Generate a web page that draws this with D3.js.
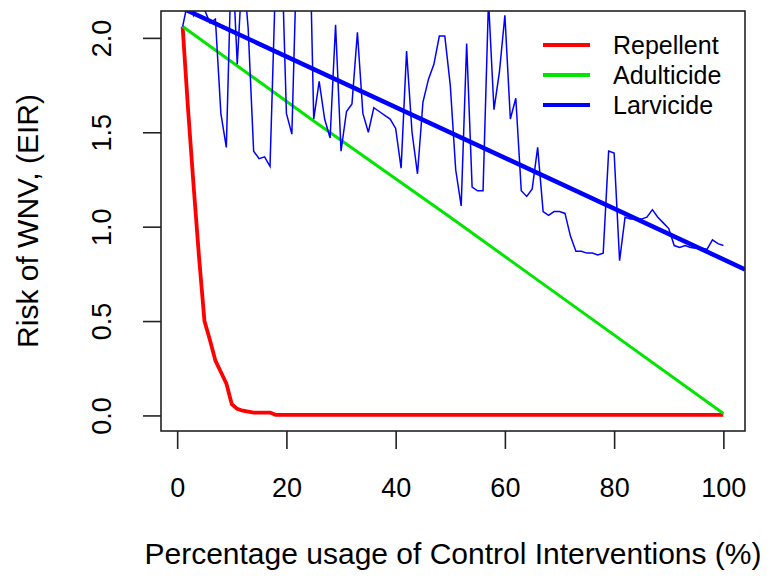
<!DOCTYPE html>
<meta charset="utf-8">

<!-- Load d3.js -->
<script src="https://d3js.org/d3.v7.min.js"></script>

<style>
  body { margin: 0; background: #fff; }
  text { font-family: "Liberation Sans", Arial, sans-serif; fill: #000; }
  .tick-label { font-size: 27px; }
  .axis-title { font-size: 30px; }
  .legend-label { font-size: 25px; }
</style>

<!-- Create a div where the graph will take place -->
<div id="my_dataviz"></div>

<script>

// Percentage usage, one point per percent (1..100)
var usage = d3.range(1, 101);

// Repellent: steep drop then flat at zero
var repellentX = [1, 2, 3, 4, 5, 6, 7, 8, 9, 10, 11, 12, 13, 14, 15, 16, 17, 18, 100];
var repellent = [2.06, 1.62, 1.22, 0.84, 0.50, 0.40, 0.29, 0.23, 0.17, 0.06,
                 0.035, 0.025, 0.02, 0.015, 0.015, 0.015, 0.015, 0.003, 0.003];

// Adulticide: straight decline
var adulticideX = [1, 25, 50, 75, 100];
var adulticide = [2.06, 1.56, 1.05, 0.53, 0.01];

// Larvicide: noisy series (values above 2.14 are cut off by the plot box)
var larvicide = [
  2.06, 2.20, 2.12, 2.22, 2.15, 2.08, 2.10, 1.60, 1.42, 2.50,
  1.86, 2.40, 2.05, 1.40, 1.36, 1.37, 1.32, 2.30, 2.60, 1.60,
  1.49, 2.55, 2.80, 2.90, 1.57, 1.77, 1.57, 1.47, 2.07, 1.40,
  1.61, 1.65, 2.03, 1.60, 1.50, 1.63, 1.61, 1.59, 1.57, 1.52,
  1.31, 1.93, 1.50, 1.28, 1.66, 1.78, 1.86, 2.01, 2.01, 1.75,
  1.30, 1.11, 1.97, 1.21, 1.19, 1.19, 2.20, 1.62, 1.82, 2.12,
  1.57, 1.68, 1.19, 1.16, 1.20, 1.42, 1.08, 1.06, 1.08, 1.08,
  1.07, 0.95, 0.87, 0.87, 0.86, 0.86, 0.85, 0.86, 1.40, 1.39,
  0.82, 1.05, 1.04, 1.04, 1.04, 1.05, 1.09, 1.05, 1.02, 0.99,
  0.90, 0.89, 0.90, 0.89, 0.885, 0.885, 0.88, 0.93, 0.91, 0.90
];

// Larvicide fitted trend line: intercept, slope
var larvicideFit = [2.170, -0.01343];

// tick labels
var xTicks = [0, 20, 40, 60, 80, 100];
var yTicks = [0, 0.5, 1.0, 1.5, 2.0];

var legendNames = ["Repellent", "Adulticide", "Larvicide"];
var legendColors = ["#ff0000", "#00e600", "#0000ff"];

var width = 772, height = 584;
var plot = { left: 161, right: 745, top: 11, bottom: 431 };

var svg = d3.select("#my_dataviz")
  .append("svg")
    .attr("width", width)
    .attr("height", height);

// R style scales: data range padded by 4% on each side
var xPad = (100 - 1) * 0.04;
var x = d3.scaleLinear()
  .domain([1 - xPad, 100 + xPad])
  .range([plot.left, plot.right]);

var yPad = (2.06 - 0) * 0.04;
var y = d3.scaleLinear()
  .domain([0 - yPad, 2.06 + yPad])
  .range([plot.bottom, plot.top]);

svg.append("clipPath")
    .attr("id", "clip")
  .append("rect")
    .attr("x", plot.left)
    .attr("y", plot.top)
    .attr("width", plot.right - plot.left)
    .attr("height", plot.bottom - plot.top);

var lines = svg.append("g").attr("clip-path", "url(#clip)");

var line = d3.line()
  .x(function(d) { return x(d[0]); })
  .y(function(d) { return y(d[1]); });

lines.append("path")
  .attr("d", line(d3.zip(repellentX, repellent)))
  .attr("fill", "none")
  .attr("stroke", legendColors[0])
  .attr("stroke-width", 3.8);

lines.append("path")
  .attr("d", line(d3.zip(adulticideX, adulticide)))
  .attr("fill", "none")
  .attr("stroke", legendColors[1])
  .attr("stroke-width", 3);

lines.append("path")
  .attr("d", line(d3.zip(usage, larvicide)))
  .attr("fill", "none")
  .attr("stroke", legendColors[2])
  .attr("stroke-width", 1.5);

// abline of the fit, across the whole plot region
var xd = x.domain();
lines.append("path")
  .attr("d", line(xd.map(function(v) { return [v, larvicideFit[0] + larvicideFit[1] * v]; })))
  .attr("fill", "none")
  .attr("stroke", legendColors[2])
  .attr("stroke-width", 4.5);

// box
svg.append("rect")
  .attr("x", plot.left)
  .attr("y", plot.top)
  .attr("width", plot.right - plot.left)
  .attr("height", plot.bottom - plot.top)
  .attr("fill", "none")
  .attr("stroke", "#222")
  .attr("stroke-width", 1.6);

// x axis
var xAxis = svg.append("g")
  .attr("transform", "translate(0," + plot.bottom + ")")
  .call(d3.axisBottom(x).tickValues(xTicks).tickSize(18).tickPadding(29).tickFormat(d3.format("d")));
xAxis.select(".domain").remove();
xAxis.selectAll("line").attr("stroke", "#222").attr("stroke-width", 1.6);
xAxis.selectAll("text").attr("class", "tick-label").attr("font-family", null).attr("font-size", null);

// y axis, labels rotated like R
var yAxis = svg.append("g")
  .attr("transform", "translate(" + plot.left + ",0)")
  .call(d3.axisLeft(y).tickValues(yTicks).tickSize(18).tickFormat(d3.format(".1f")));
yAxis.select(".domain").remove();
yAxis.selectAll("line").attr("stroke", "#222").attr("stroke-width", 1.6);
yAxis.selectAll("text")
  .attr("class", "tick-label")
  .attr("font-family", null).attr("font-size", null)
  .attr("x", 0).attr("y", 0)
  .attr("dy", "0.36em")
  .attr("text-anchor", "middle")
  .attr("transform", "translate(-60,0) rotate(-90)");

// axis titles
svg.append("text")
  .attr("class", "axis-title")
  .attr("x", (plot.left + plot.right) / 2)
  .attr("y", 564)
  .attr("text-anchor", "middle")
  .text("Percentage usage of Control Interventions (%)");

svg.append("text")
  .attr("class", "axis-title")
  .attr("transform", "translate(30," + (plot.top + plot.bottom) / 2 + ") rotate(-90)")
  .attr("dy", "0.27em")
  .attr("text-anchor", "middle")
  .text("Risk of WNV, (EIR)");

// legend, no box
var legend = svg.append("g")
  .selectAll("g")
  .data(legendNames)
  .enter()
  .append("g")
    .attr("transform", function(d, i) { return "translate(543," + (45 + i * 30) + ")"; });

legend.append("line")
  .attr("x1", 0)
  .attr("x2", 47)
  .attr("stroke", function(d, i) { return legendColors[i]; })
  .attr("stroke-width", 4);

legend.append("text")
  .attr("class", "legend-label")
  .attr("x", 70)
  .attr("dy", "0.36em")
  .text(function(d) { return d; });

</script>
